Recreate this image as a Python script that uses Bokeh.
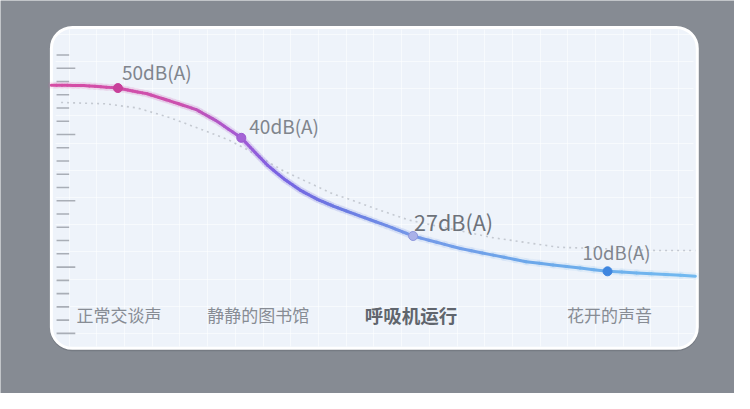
import numpy as np
from bokeh.plotting import figure
from bokeh.models import ColumnDataSource, Range1d, Grid, FixedTicker
from bokeh.core.properties import value
from bokeh.embed import file_html
from bokeh.resources import INLINE

# sound sources and their levels
categories = ["正常交谈声", "静静的图书馆", "呼吸机运行", "花开的声音"]
db_values = [50, 40, 27, 10]
highlight = "呼吸机运行"

# where each source sits on the curve (x: 0-100 across the card, y: 0-100 up the card)
point_x = [10.3, 29.4, 56.0, 86.1]
point_y = [81.1, 65.6, 35.0, 24.0]

# solid curve
curve_x = [0.0, 5.0, 10.3, 14.85, 18.33, 22.42, 25.45, 29.4, 31.52, 33.48,
           36.06, 38.59, 41.11, 43.64, 47.68, 52.73, 56.0, 63.33, 73.48,
           86.06, 99.7]
curve_y = [82.0, 81.9, 81.1, 79.3, 77.1, 74.4, 71.0, 65.6, 61.1, 57.0,
           52.7, 49.2, 46.5, 44.3, 41.3, 37.6, 35.0, 31.1, 27.0, 24.0, 22.5]

# dotted reference curve
ref_x = [1.5, 8.3, 13.3, 18.3, 23.5, 27.4, 30.5, 36.1, 40.1, 43.6, 45.9,
         50.2, 55.3, 58.8, 68.3, 78.5, 93.6, 99.7]
ref_y = [76.6, 76.2, 74.9, 71.9, 68.0, 65.0, 61.7, 55.1, 51.4, 48.1, 46.6,
         43.5, 40.0, 38.5, 34.5, 31.5, 30.5, 30.5]

GRAY_BG = "#868b93"
CARD = "#eef3fa"
FONT = "Noto Sans CJK SC"

stops = [(0, "#d64ca4"), (20, "#cc50ae"), (29.4, "#a35ad4"), (35, "#7a62e2"),
         (45, "#6a7ae2"), (56, "#7498e8"), (75, "#6ca8ea"), (100, "#72baf0")]


def hex2rgb(h):
    return np.array([int(h[i:i + 2], 16) for i in (1, 3, 5)], dtype=float)


def color_at(x):
    for (x0, c0), (x1, c1) in zip(stops[:-1], stops[1:]):
        if x <= x1:
            t = (x - x0) / (x1 - x0)
            c = hex2rgb(c0) * (1 - t) + hex2rgb(c1) * t
            return "#%02x%02x%02x" % tuple(int(round(v)) for v in c)
    return stops[-1][1]


p = figure(width=734, height=393, title=None, output_backend="svg",
           toolbar_location=None, x_axis_type=None, y_axis_type=None,
           x_range=Range1d(-7.879, 105.758), y_range=Range1d(-14.07, 108.38),
           min_border=0)
p.outline_line_color = None
p.background_fill_color = GRAY_BG
p.border_fill_color = GRAY_BG

# card
p.quad(left=-0.2, right=100.2, bottom=-0.9, top=99.6, fill_color="#5a5f66",
       fill_alpha=0.35, line_color=None, border_radius=22, level="underlay")
p.quad(left=0, right=100, bottom=0, top=100, fill_color=CARD,
       line_color="white", line_width=3, border_radius=21, level="underlay")

# faint white grid inside the card
vgrid = Grid(dimension=0, ticker=FixedTicker(ticks=list(np.arange(2.74, 100, 4.29))),
             cross_bounds=(0.6, 99.4), grid_line_color="white", grid_line_alpha=0.55,
             grid_line_width=1, level="underlay")
hgrid = Grid(dimension=1, ticker=FixedTicker(ticks=list(np.arange(4.6, 100, 8.48))),
             cross_bounds=(0.6, 99.4), grid_line_color="white", grid_line_alpha=0.55,
             grid_line_width=1, level="underlay")
p.add_layout(vgrid)
p.add_layout(hgrid)

# ruler ticks on the left edge
tick_y = 91.4 - 4.13 * np.arange(22)
tick_len = np.where(np.arange(22) % 5 == 1, 2.9, 1.95)
p.segment(x0=0.8, y0=tick_y, x1=0.8 + tick_len, y1=tick_y,
          line_color="#a9aeb6", line_width=1.6)

# dotted reference curve
p.line(ref_x, ref_y, line_color="#c4c9d1", line_width=1.6, line_dash="2 4")

# gradient solid curve
x0s, y0s, x1s, y1s, cols = [], [], [], [], []
for i in range(len(curve_x) - 1):
    xs = np.linspace(curve_x[i], curve_x[i + 1], 7)
    ys = np.linspace(curve_y[i], curve_y[i + 1], 7)
    for j in range(6):
        x0s.append(xs[j]); y0s.append(ys[j])
        x1s.append(xs[j + 1]); y1s.append(ys[j + 1])
        cols.append(color_at((xs[j] + xs[j + 1]) / 2))
seg = ColumnDataSource(dict(x0=x0s, y0=y0s, x1=x1s, y1=y1s, c=cols))
p.segment("x0", "y0", "x1", "y1", source=seg, line_color="c", line_width=7,
          line_alpha=0.1, line_cap="round")
p.segment("x0", "y0", "x1", "y1", source=seg, line_color="c", line_width=3,
          line_cap="round")

# markers
pts = ColumnDataSource(dict(
    x=point_x, y=point_y,
    fill=["#c8409a", "#a463d6", "#aab1e8", "#3f86df"],
    line=["#c8409a", "#9a5ad0", "#8e97dd", "#3f86df"],
    label=[f"{v}dB(A)" for v in db_values],
    dx=[4, 8, 1, -25], dy=[-17, -12, -15, -19],
    size=["19px", "19px", "21.5px", "18.5px"],
    tc=["#80858d", "#80858d", "#6d727a", "#80858d"],
))
p.scatter("x", "y", source=pts, size=9, fill_color="fill", line_color="line",
          line_width=1)
p.text("x", "y", text="label", source=pts, x_offset="dx", y_offset="dy",
       text_font=value(FONT), text_font_size="size", text_color="tc",
       text_align="left", text_baseline="middle")

# category labels under the curve
lab_dx = [1, 17, -2, 2]
normal = [i for i, c in enumerate(categories) if c != highlight]
bold = [i for i, c in enumerate(categories) if c == highlight]
p.text(x=[point_x[i] for i in normal], y=10.5, text=[categories[i] for i in normal],
       x_offset=[lab_dx[i] for i in normal], text_font=value(FONT),
       text_font_size="17px", text_color="#878c94", text_align="center",
       text_baseline="middle")
p.text(x=[point_x[i] for i in bold], y=10.5, text=[categories[i] for i in bold],
       x_offset=[lab_dx[i] for i in bold], text_font=value(FONT),
       text_font_size="18.5px", text_font_style="bold", text_color="#60656d",
       text_align="center", text_baseline="middle")

open("out.html", "w").write(file_html(p, INLINE))
